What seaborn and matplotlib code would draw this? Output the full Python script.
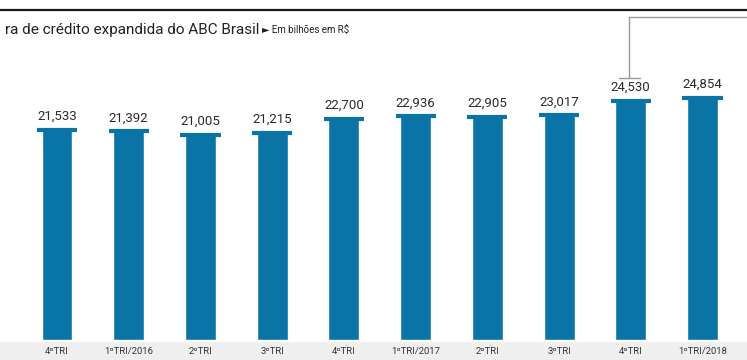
import matplotlib
matplotlib.use("Agg")
import matplotlib.pyplot as plt
import matplotlib.transforms as mtransforms
from matplotlib.patches import Rectangle
import seaborn as sns
import pandas as pd

categories = ["4ºTRI", "1ºTRI/2016", "2ºTRI", "3ºTRI", "4ºTRI",
              "1ºTRI/2017", "2ºTRI", "3ºTRI", "4ºTRI", "1ºTRI/2018"]
values = [21533, 21392, 21005, 21215, 22700, 22936, 22905, 23017, 24530, 24854]
value_labels = ["21,533", "21,392", "21,005", "21,215", "22,700",
                "22,936", "22,905", "23,017", "24,530", "24,854"]
title_text = "ra de crédito expandida do ABC Brasil"
subtitle_text = "► Em bilhões em R$"

sns.set_theme(style="white")
plt.rcParams['font.family'] = ['Roboto', 'DejaVu Sans']

W, H = 747, 360
fig = plt.figure(figsize=(W / 100, H / 100), dpi=100)

# grey band for category labels
fig.patches.append(Rectangle((0, 0), 1, 1 - 342 / H, transform=fig.transFigure,
                             facecolor="#efefef", edgecolor="none", zorder=-5))
# top black rule
fig.add_artist(plt.Line2D([0, 1], [1 - 9.5 / H, 1 - 9.5 / H], transform=fig.transFigure,
                          color="#1a1a1a", lw=1.6))

ax = fig.add_axes([0, 1 - 340 / H, 1, 340 / H])
ax.set_facecolor("none")
df = pd.DataFrame({"cat": range(len(values)), "val": values})
color = "#0b74a6"
sns.barplot(data=df, x="cat", y="val", color=color, width=0.43, ax=ax,
            saturation=1, native_scale=True)
ax.hlines(values, [i - 0.28 for i in range(len(values))],
          [i + 0.28 for i in range(len(values))], color=color, lw=3.0)

ax.set_xlim(-0.795, 9.62)
ax.set_ylim(0, 340 * 102.5)
for s in ax.spines.values():
    s.set_visible(False)
ax.set_xticks([])
ax.set_yticks([])
ax.set_xlabel("")
ax.set_ylabel("")

for i, (v, lab) in enumerate(zip(values, value_labels)):
    ax.annotate(lab, (i, v), xytext=(0, 5), textcoords="offset points",
                ha="center", va="bottom", fontsize=9.5, color="#2b2b2b")

# category labels in band
trans = mtransforms.blended_transform_factory(ax.transData, fig.transFigure)
for i, c in enumerate(categories):
    fig.text(0, 0, c, transform=trans, ha="center", va="center",
             fontsize=6.8, color="#333333").set_position((i, 1 - 352 / H))

# connector line
x8 = 8 - 0.02
ax.plot([x8, x8], [1 - 78 / H, 1 - 17 / H], transform=trans, color="#9a9a9a", lw=1, clip_on=False)
ax.plot([x8, 9.62], [1 - 17 / H, 1 - 17 / H], transform=trans, color="#9a9a9a", lw=1, clip_on=False)
ax.plot([x8 - 0.15, x8 + 0.15], [1 - 78 / H, 1 - 78 / H], transform=trans, color="#9a9a9a", lw=1, clip_on=False)

fig.text(5 / W, 1 - 30 / H, title_text, ha="left", va="center", fontsize=11, color="#222222")
fig.text(262 / W, 1 - 30 / H, subtitle_text, ha="left", va="center", fontsize=7,
         color="#222222", family=['Roboto', 'DejaVu Sans'])

fig.savefig("out.png", dpi=100)
